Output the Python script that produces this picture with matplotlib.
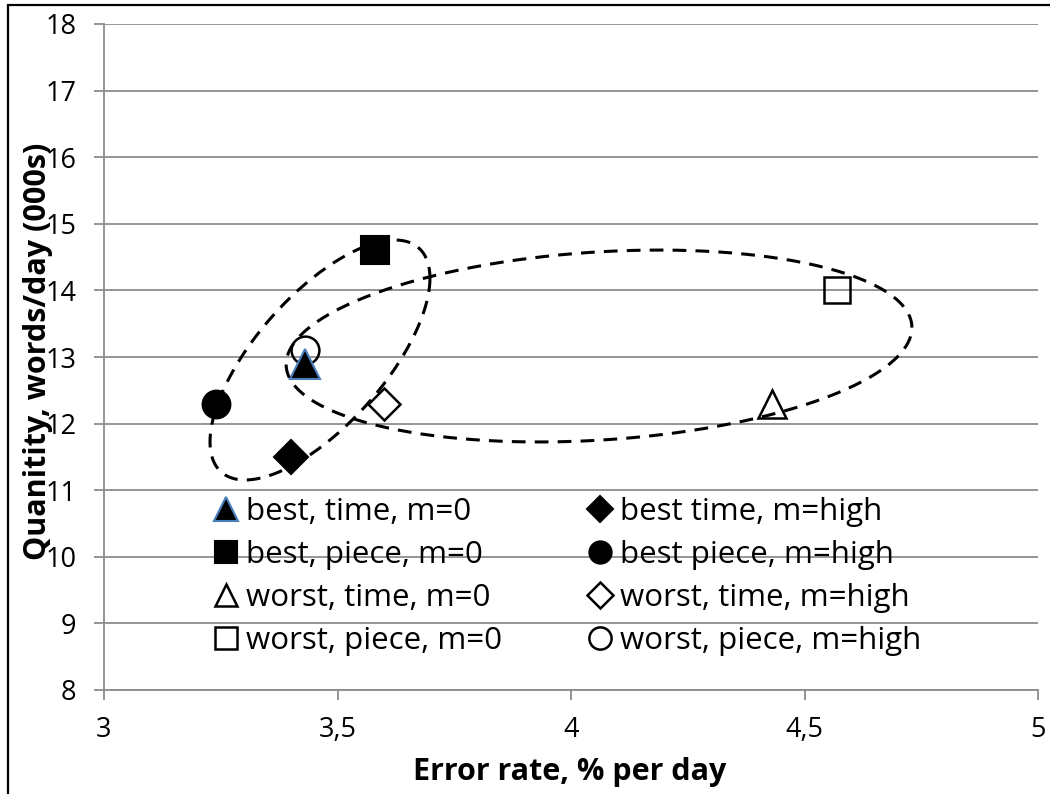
import matplotlib
matplotlib.use("Agg")
import matplotlib.pyplot as plt
import numpy as np
from matplotlib.patches import Rectangle

plt.rcParams['font.family'] = ['Open Sans', 'DejaVu Sans']

# series, in legend order (column by column)
labels = ['best, time, m=0', 'best, piece, m=0', 'worst, time, m=0', 'worst, piece, m=0',
          'best time, m=high', 'best piece, m=high', 'worst, time, m=high', 'worst, piece, m=high']
err_rate = [3.43, 3.58, 4.43, 4.57, 3.40, 3.24, 3.60, 3.43]
quantity = [12.9, 14.6, 12.3, 14.0, 11.5, 12.3, 12.3, 13.1]
markers = ['^', 's', '^', 's', 'D', 'o', 'D', 'o']
filled = [True, True, False, False, True, True, False, False]
msizes = [21, 20, 20, 19, 17, 20, 16, 20]

x_ticks = [3, 3.5, 4, 4.5, 5]
x_ticklabels = ['3', '3,5', '4', '4,5', '5']
y_ticks = list(range(8, 19))

# dashed group outlines: centre and two conjugate semi-axes, in data units
best_group = dict(c=(3.4625, 12.955), a=(0.2355, 1.228), b=(0.0, -1.318))
worst_group = dict(c=(4.06, 13.165), a=(0.670, 0.276), b=(0.0, 1.414))

fig = plt.figure(figsize=(10.5, 7.94), dpi=100)
ax = fig.add_axes([104 / 1050, 1 - 690 / 794, 934 / 1050, 666 / 794])

grid_col = '#8c8c8c'
handles = []
for i in range(len(labels)):
    edge = '#4a7ebb' if i == 0 else 'black'
    if filled[i]:
        h, = ax.plot(err_rate[i], quantity[i], linestyle='none', marker=markers[i],
                     markersize=msizes[i], markerfacecolor='black', markeredgecolor=edge,
                     markeredgewidth=1.5, label=labels[i], zorder=5)
    else:
        h, = ax.plot(err_rate[i], quantity[i], linestyle='none', marker=markers[i],
                     markersize=msizes[i], markerfacecolor='none', markeredgecolor='black',
                     markeredgewidth=1.8, label=labels[i], zorder=4)
    handles.append(h)

t = np.linspace(0, 2 * np.pi, 400)
for g in (best_group, worst_group):
    ex = g['c'][0] + g['a'][0] * np.cos(t) + g['b'][0] * np.sin(t)
    ey = g['c'][1] + g['a'][1] * np.cos(t) + g['b'][1] * np.sin(t)
    ax.plot(ex, ey, color='black', linewidth=2.2, dashes=(4.5, 3.0), zorder=6)

ax.set_xlim(3, 5)
ax.set_ylim(8, 18)
ax.set_xticks(x_ticks)
ax.set_xticklabels(x_ticklabels)
ax.set_yticks(y_ticks)
ax.yaxis.grid(True, color=grid_col, linewidth=1.3)
ax.set_axisbelow(True)
for s in ['top', 'right']:
    ax.spines[s].set_visible(False)
for s in ['left', 'bottom']:
    ax.spines[s].set_color(grid_col)
    ax.spines[s].set_linewidth(1.3)
ax.tick_params(axis='both', direction='out', length=7, width=1.3, color=grid_col,
               labelsize=19.5, labelcolor='black')
ax.tick_params(axis='y', pad=13)
ax.tick_params(axis='x', pad=12)

# two single-column legends, placed like the two columns of the original
leg_kw = dict(loc='upper left', frameon=False, fontsize=22.5, handlelength=0.8,
              handletextpad=0.26, labelspacing=0.42, markerscale=0.8, borderpad=0,
              borderaxespad=0, bbox_transform=fig.transFigure)
leg1 = ax.legend(handles=handles[:4], bbox_to_anchor=(213 / 1050, 1 - 497 / 794), **leg_kw)
ax.add_artist(leg1)
ax.legend(handles=handles[4:], bbox_to_anchor=(587 / 1050, 1 - 497 / 794), **leg_kw)

fig.text(570 / 1050, 1 - 772 / 794, 'Error rate, % per day', ha='center', va='center',
         fontsize=22, fontweight='bold')
fig.text(38 / 1050, 1 - 351 / 794, 'Quanitity, words/day (000s)', ha='center', va='center',
         rotation=90, fontsize=22, fontweight='bold')

fig.patches.append(Rectangle((7.5 / 1050, -0.1), 1.2, 1.1 - 5 / 794, transform=fig.transFigure,
                             fill=False, edgecolor='black', linewidth=1.6))

fig.savefig('out.png', dpi=100, facecolor='white')
